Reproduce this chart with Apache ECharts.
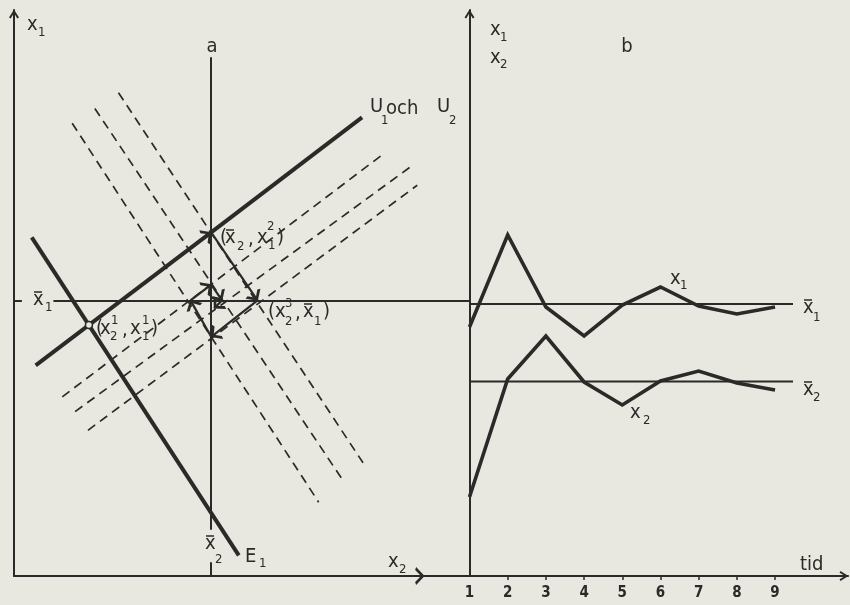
<!DOCTYPE html>
<html>
<head>
<meta charset="utf-8">
<script src="https://cdn.jsdelivr.net/npm/echarts@6.0.0/dist/echarts.min.js"></script>
<style>
  html, body { margin: 0; padding: 0; background: #e8e8e0; }
  #chart { width: 850px; height: 605px; }
</style>
</head>
<body>
<div id="chart"></div>
<script>
// ---------- Panel a: adjustment in the (x2, x1) plane ----------
const eqX2 = 20.0;   // x̄2
const eqX1 = 28.0;   // x̄1
const lineU = [[2.2, 21.4], [20.0, 34.9], [35.3, 46.6]];   // U1 och U2
const lineE1 = [[1.8, 34.4], [22.8, 2.1]];                 // E1
const startPoint = [7.6, 25.5];                            // (x2^1, x1^1)
const dashedE = [
  [[5.9, 46.0], [30.9, 7.5]],
  [[8.2, 47.5], [33.3, 9.8]],
  [[10.6, 49.1], [35.4, 11.5]]
];
const dashedU = [
  [[4.9, 18.2], [37.5, 42.9]],
  [[6.2, 16.7], [40.4, 41.7]],
  [[7.5, 14.8], [40.9, 39.7]]
];
const adjustPath = [[20.0, 34.9], [24.7, 28.0], [20.0, 24.3], [17.9, 28.0], [20.0, 29.6], [21.1, 28.0], [20.3, 27.2]];
const lineA = [[[eqX2, 52.7], [eqX2, 4.7]], [[eqX2, 1.4], [eqX2, 0]]];
const barX1Span = [[[4.0, eqX1], [46.2, eqX1]], [[0, eqX1], [0.8, eqX1]]];
const x2AxisArrow = [[40.0, 0], [41.6, 0]];

// ---------- Panel b: time paths ----------
const periods = [1, 2, 3, 4, 5, 6, 7, 8, 9];
const tickLabels = ['1', '2', '3', '4', '5', '6', '7', '8', '9'];
const x1Path = [24.9, 34.1, 26.9, 24.0, 27.1, 28.9, 27.0, 26.2, 26.9];
const x2Path = [7.9, 19.7, 24.0, 19.4, 17.1, 19.5, 20.5, 19.3, 18.6];
const x1Bar = 27.2;
const x2Bar = 19.45;
const barEnd = 9.47;

const INK = '#2a2a28';
const FONT = '"Liberation Sans Narrow", "DejaVu Sans Condensed", "DejaVu Sans", sans-serif';
// open arrow head, tip at the centre of its box
const CHEVRON = 'path://M5,-8 M0,8 L5,0 L10,8 L8.3,8.9 L5,3.4 L1.7,8.9 Z';

const chart = echarts.init(document.getElementById('chart'));

function segs(list) { return list.map(c => ({ coords: c })); }
function linesSeries(data, style, arrow, ai) {
  return {
    type: 'lines', coordinateSystem: 'cartesian2d',
    xAxisIndex: ai, yAxisIndex: ai, polyline: false, clip: false, silent: true,
    symbol: arrow ? ['none', CHEVRON] : ['none', 'none'],
    symbolSize: arrow ? [9, 18] : 0,
    lineStyle: Object.assign({ color: INK, opacity: 1, curveness: 0 }, style),
    data: segs(data)
  };
}
function pairs(path) {
  const out = [];
  for (let i = 0; i < path.length - 1; i++) out.push([path[i], path[i + 1]]);
  return out;
}
function txt(x, y, s, size, align) {
  return {
    type: 'text', x: x, y: y, z: 50, silent: true,
    style: { text: s, fill: INK, fontSize: size || 20, fontFamily: FONT,
             align: align || 'left', verticalAlign: 'middle' }
  };
}
function bar(x, y) {
  return { type: 'line', z: 50, silent: true,
           shape: { x1: x + 1, y1: y, x2: x + 9, y2: y },
           style: { stroke: INK, lineWidth: 1.5 } };
}

const labels = [
  // panel a
  txt(27, 25, 'x'), txt(38, 33, '1', 13),
  txt(212, 47, 'a', 20, 'center'),
  txt(370, 107, 'U'), txt(381, 121, '1', 13), txt(386, 109, 'och'), txt(437, 107, 'U'), txt(449, 121, '2', 13),
  txt(220, 238, '('), txt(225, 238, 'x'), bar(225, 230), txt(237, 247, '2', 13), txt(248, 240, ','),
  txt(257, 238, 'x'), txt(267, 227, '2', 13), txt(268, 246, '1', 13), txt(277, 238, ')'),
  txt(268, 312, '('), txt(275, 312, 'x'), txt(285, 304, '3', 13), txt(285, 322, '2', 13), txt(295, 314, ','),
  txt(303, 312, 'x'), bar(303, 304), txt(314, 322, '1', 13), txt(323, 312, ')'),
  txt(96, 329, '('), txt(100, 329, 'x'), txt(111, 321, '1', 13), txt(110, 337, '2', 13), txt(122, 331, ','),
  txt(130, 329, 'x'), txt(142, 321, '1', 13), txt(142, 337, '1', 13), txt(151, 329, ')'),
  txt(33, 300, 'x'), bar(33, 292), txt(45, 308, '1', 13),
  txt(205, 544, 'x'), bar(205, 536), txt(215, 560, '2', 13),
  txt(245, 557, 'E'), txt(259, 564, '1', 13),
  txt(388, 562, 'x'), txt(399, 570, '2', 13),
  // panel b
  txt(490, 30, 'x'), txt(500, 38, '1', 13),
  txt(490, 58, 'x'), txt(500, 65, '2', 13),
  txt(627, 47, 'b', 20, 'center'),
  txt(670, 279, 'x'), txt(680, 286, '1', 13),
  txt(803, 308, 'x'), bar(803, 300), txt(813, 318, '1', 13),
  txt(803, 390, 'x'), bar(803, 382), txt(813, 398, '2', 13),
  txt(630, 413, 'x'), txt(643, 421, '2', 13),
  txt(800, 565, 'tid')
];

const axisLineStyle = { color: INK, width: 2 };
const hidden = { axisTick: { show: false }, axisLabel: { show: false }, splitLine: { show: false } };

const option = {
  backgroundColor: '#e8e8e0',
  animation: false,
  grid: [
    { left: 14, top: 10, width: 455.5, height: 566 },
    { left: 469.5, top: 10, width: 378.5, height: 566 }
  ],
  xAxis: [
    Object.assign({ gridIndex: 0, type: 'value', min: 0, max: 46.2,
      axisLine: { show: true, onZero: false, lineStyle: axisLineStyle } }, hidden),
    { gridIndex: 1, type: 'value', min: 1, max: 10.91, interval: 1,
      axisLine: { show: true, onZero: false, symbol: ['none', CHEVRON], symbolSize: [10, 20], lineStyle: axisLineStyle },
      axisTick: { show: true, customValues: periods.slice(1), length: 4, lineStyle: { color: INK, width: 1.5 } },
      axisLabel: { show: true, customValues: periods, margin: 10, color: INK, fontSize: 15, fontWeight: 'bold',
        fontFamily: FONT, formatter: v => tickLabels[periods.indexOf(v)] || '' },
      splitLine: { show: false } }
  ],
  yAxis: [
    Object.assign({ gridIndex: 0, type: 'value', min: 0, max: 57.5,
      axisLine: { show: true, onZero: false, symbol: ['none', CHEVRON], symbolSize: [10, 20], lineStyle: axisLineStyle } }, hidden),
    Object.assign({ gridIndex: 1, type: 'value', min: 0, max: 56.6,
      axisLine: { show: true, onZero: false, symbol: ['none', CHEVRON], symbolSize: [10, 20], lineStyle: axisLineStyle } }, hidden)
  ],
  series: [
    // panel a
    linesSeries(dashedE, { width: 1.7, type: [9, 6] }, false, 0),
    linesSeries(dashedU, { width: 1.7, type: [9, 6] }, false, 0),
    linesSeries(lineA, { width: 2 }, false, 0),
    linesSeries(barX1Span, { width: 2 }, false, 0),
    linesSeries([x2AxisArrow], { width: 2 }, true, 0),
    linesSeries([lineE1], { width: 4, cap: 'butt' }, false, 0),
    linesSeries([[lineU[1], lineU[2]]], { width: 4 }, false, 0),
    linesSeries([[lineU[0], lineU[1]]], { width: 4 }, true, 0),
    linesSeries(pairs(adjustPath), { width: 2.2 }, true, 0),
    { type: 'scatter', xAxisIndex: 0, yAxisIndex: 0, silent: true, z: 5,
      symbol: 'circle', symbolSize: 7, data: [startPoint],
      itemStyle: { color: '#e8e8e0', borderColor: INK, borderWidth: 1.6, opacity: 1 } },
    // panel b
    { type: 'line', xAxisIndex: 1, yAxisIndex: 1, silent: true, symbol: 'none',
      lineStyle: { color: INK, width: 2 }, data: [[1, x1Bar], [barEnd, x1Bar]] },
    { type: 'line', xAxisIndex: 1, yAxisIndex: 1, silent: true, symbol: 'none',
      lineStyle: { color: INK, width: 2 }, data: [[1, x2Bar], [barEnd, x2Bar]] },
    { type: 'line', xAxisIndex: 1, yAxisIndex: 1, silent: true, symbol: 'none',
      lineStyle: { color: INK, width: 3.6, join: 'miter' }, data: periods.map((t, i) => [t, x1Path[i]]) },
    { type: 'line', xAxisIndex: 1, yAxisIndex: 1, silent: true, symbol: 'none',
      lineStyle: { color: INK, width: 3.6, join: 'miter' }, data: periods.map((t, i) => [t, x2Path[i]]) }
  ],
  graphic: labels
};

chart.setOption(option);
</script>
</body>
</html>
